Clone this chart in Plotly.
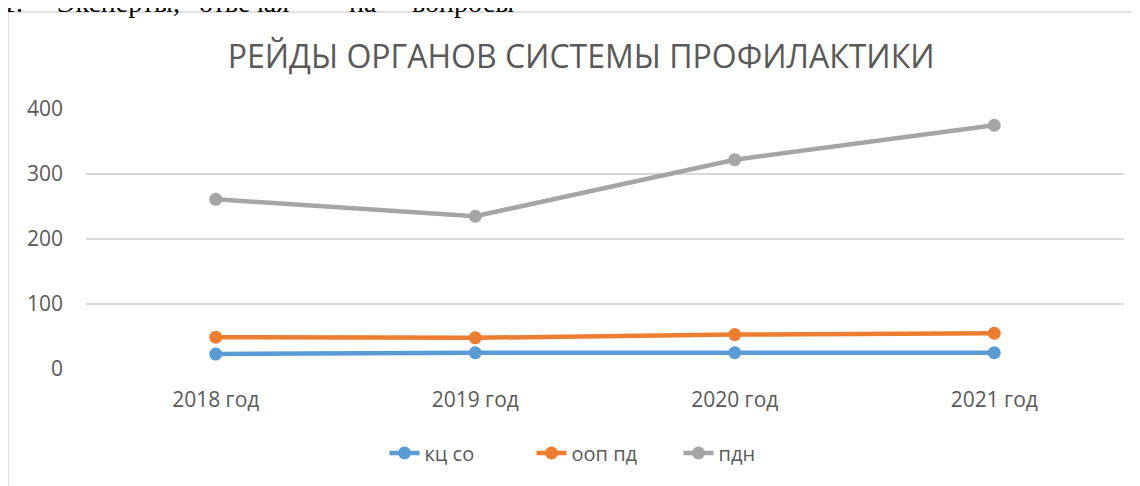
import plotly.graph_objects as go

years = ["2018 год", "2019 год", "2020 год", "2021 год"]
kc_so = [23, 25, 25, 25]
oop_pd = [49, 48, 53, 55]
pdn = [261, 235, 322, 375]

series = [
    ("кц со", kc_so, "#5B9BD5"),
    ("ооп пд", oop_pd, "#ED7D31"),
    ("пдн", pdn, "#A5A5A5"),
]

# words of the document line above the chart (cut by the screenshot)
doc_words = ["1.", "Эксперты,", "отвечая", "на", "вопросы"]
doc_word_x = [-0.0829, -0.0299, 0.1069, 0.2514, 0.3121]

FONT = "Open Sans"

fig = go.Figure()
for name, vals, color in series:
    fig.add_trace(go.Scatter(
        x=years, y=vals, mode="lines+markers", name=name,
        line=dict(color=color, width=4.5),
        marker=dict(color=color, size=13),
    ))

# chart frame (left and top edges visible)
fig.add_shape(type="line", xref="paper", yref="paper",
              x0=-0.0751, x1=1.05, y0=1.373, y1=1.373,
              line=dict(color="#D9D9D9", width=1.5))
fig.add_shape(type="line", xref="paper", yref="paper",
              x0=-0.0751, x1=-0.0751, y0=1.373, y1=-0.6,
              line=dict(color="#D9D9D9", width=1.5))

for word, wx in zip(doc_words, doc_word_x):
    fig.add_annotation(
        text=word, xref="paper", yref="paper", x=wx, y=1.344,
        xanchor="left", yanchor="bottom", showarrow=False,
        font=dict(family="Liberation Serif", size=28, color="#000000"),
    )

fig.update_layout(
    width=1140, height=486,
    margin=dict(l=78, r=24, t=101, b=125),
    paper_bgcolor="white", plot_bgcolor="white",
    title=dict(text="РЕЙДЫ ОРГАНОВ СИСТЕМЫ ПРОФИЛАКТИКИ",
               x=0.477, xref="paper", xanchor="center",
               y=0.899, yanchor="middle",
               font=dict(family=FONT, size=32, color="#595959")),
    font=dict(family=FONT, size=20, color="#595959"),
    xaxis=dict(type="category", range=[-0.5, 3.5], showgrid=False,
               showline=False, zeroline=False, ticks="",
               ticklabelstandoff=16,
               tickfont=dict(size=21, color="#595959")),
    yaxis=dict(range=[0, 400], dtick=100, showgrid=True,
               gridcolor="#D9D9D9", gridwidth=1.5, zeroline=False,
               showline=False, ticks="", ticklabelstandoff=22,
               tickfont=dict(size=21, color="#595959")),
    legend=dict(orientation="h", x=0.5, xanchor="center",
                y=-0.323, yanchor="middle",
                font=dict(size=20, color="#595959"),
                entrywidth=102, tracegroupgap=0),
    showlegend=True,
)

fig.write_html("out.html")
